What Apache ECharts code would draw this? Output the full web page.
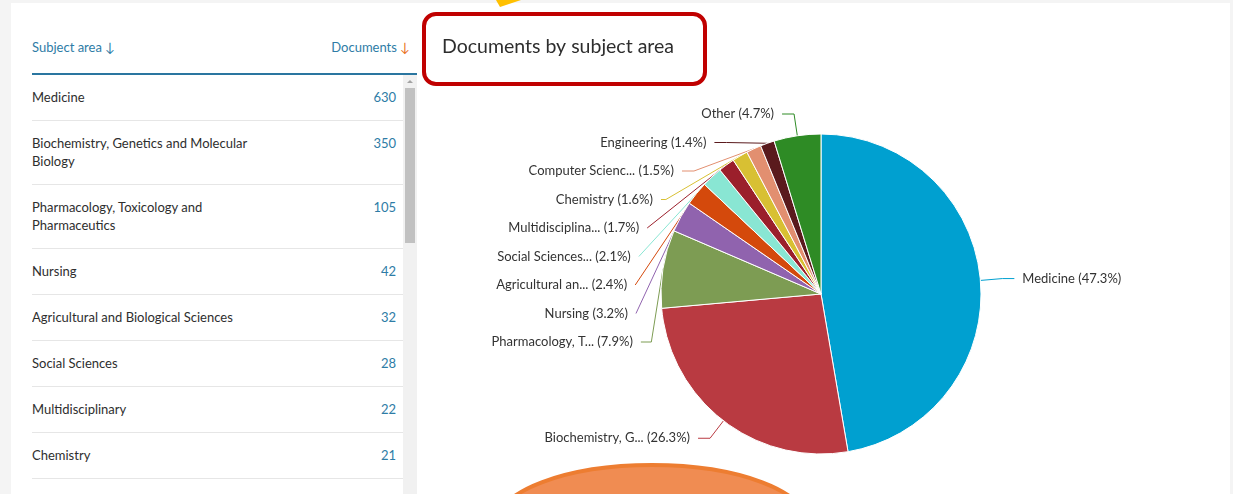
<!DOCTYPE html>
<html lang="en">
<head>
	<meta charset="UTF-8">
	<title>Documents by subject area</title>
	<style>
		*{
			margin: 0;
			padding: 0;
			box-sizing: border-box;
		}
		body{
			width: 1233px;
			height: 494px;
			overflow: hidden;
			background: #f4f4f4;
			font-family: Lato, "Noto Sans", sans-serif;
			color: #2e2e2e;
			position: relative;
		}
		.panel{
			position: absolute;
			left: 11px;
			top: 3px;
			width: 1219px;
			height: 491px;
			background: #fff;
		}
		.head{
			position: absolute;
			left: 32px;
			top: 36px;
			width: 385px;
			height: 39px;
			border-bottom: 2px solid #2a76a0;
			font-size: 13px;
			color: #2e7ca6;
		}
		.head .sa{ position: absolute; left: 0; top: 3px; }
		.head .docs{ position: absolute; right: 7px; top: 3px; }
		.head .docs i{ color: #e9711c; font-style: normal; }
		.rows{
			position: absolute;
			left: 32px;
			top: 75px;
			width: 371px;
			height: 419px;
			overflow: hidden;
		}
		.row{
			display: flex;
			justify-content: space-between;
			padding: 13px 7px 14px 0;
			line-height: 18px;
			font-size: 13px;
			border-bottom: 1px solid #e6e6e6;
		}
		.row .name{ width: 240px; }
		.row .num{ color: #2e7ca6; }
		.track{
			position: absolute;
			left: 403px;
			top: 75px;
			width: 14px;
			height: 419px;
			background: #f1f1f1;
		}
		.thumb{
			position: absolute;
			left: 2px;
			top: 13px;
			width: 10px;
			height: 155px;
			background: #c1c1c1;
		}
		.arrow{
			position: absolute;
			left: 4px;
			top: 5px;
			width: 0;
			height: 0;
			border-left: 3px solid transparent;
			border-right: 3px solid transparent;
			border-bottom: 3px solid #a3a3a3;
		}
		#chart{
			position: absolute;
			left: 418px;
			top: 0;
			width: 815px;
			height: 494px;
		}
	</style>
	<script src="https://cdn.jsdelivr.net/npm/echarts@6/dist/echarts.min.js"></script>
</head>
<body>
	<div class="panel"></div>
	<div class="head"><span class="sa">Subject area ↓</span><span class="docs">Documents <i>↓</i></span></div>
	<div class="rows" id="rows"></div>
	<div class="track"><div class="arrow"></div><div class="thumb"></div></div>
	<div id="chart"></div>
	<script>
		// data
		var subjects = ['Medicine', 'Biochemistry, Genetics and Molecular Biology', 'Pharmacology, Toxicology and Pharmaceutics',
			'Nursing', 'Agricultural and Biological Sciences', 'Social Sciences', 'Multidisciplinary', 'Chemistry',
			'Computer Science', 'Engineering', 'Other'];
		var documents = [630, 350, 105, 42, 32, 28, 22, 21, 20, 19, 63];
		var sliceColors = ['#00a0d0', '#b93a41', '#7d9c53', '#9063ae', '#d4490c', '#89e6d3', '#9b1f2b', '#d8c033',
			'#e28f70', '#5a1a1d', '#2e8b25'];

		var total = documents.reduce((a, b) => a + b, 0);

		// table on the left (Other is not a table row)
		var rowsEl = document.getElementById('rows');
		subjects.forEach((name, i) => {
			if (name === 'Other') return;
			var row = document.createElement('div');
			row.className = 'row';
			row.innerHTML = '<span class="name">' + name + '</span><span class="num">' + documents[i] + '</span>';
			rowsEl.appendChild(row);
		});

		function shortName(name) {
			return name.length >= 15 ? name.slice(0, 15) + '...' : name;
		}

		var chart = echarts.init(document.getElementById('chart'));
		var option = {
			animation: false,
			title: {
				text: 'Documents by subject area',
				left: 19,
				top: 32,
				textStyle: {
					fontFamily: 'Lato',
					fontSize: 19.5,
					fontWeight: 'normal',
					color: '#2e2e2e'
				}
			},
			graphic: [
				{
					type: 'rect',
					shape: { x: 6, y: 14, width: 281, height: 70, r: 12 },
					style: { fill: 'none', stroke: '#c00000', lineWidth: 4 }
				},
				{
					type: 'polygon',
					shape: { points: [[78, 0], [103, 0], [82, 7]] },
					style: { fill: '#ffc000' }
				},
				{
					type: 'ellipse',
					shape: { cx: 234, cy: 524, rx: 156, ry: 59 },
					style: { fill: '#f08c52', stroke: '#ed7d31', lineWidth: 4 }
				}
			],
			series: [{
				type: 'pie',
				center: [403, 294],
				radius: 160,
				startAngle: 90,
				clockwise: true,
				itemStyle: { borderColor: '#fff', borderWidth: 1 },
				label: {
					formatter: p => shortName(p.name) + ' (' + (p.value / total * 100).toFixed(1) + '%)',
					fontFamily: 'Lato',
					fontSize: 13,
					lineHeight: 26.5,
					color: '#333',
					distanceToLabelLine: 8
				},
				labelLine: {
					length: 22,
					length2: 12,
					lineStyle: { width: 1 }
				},
				data: subjects.map((name, i) => ({
					name: name,
					value: documents[i],
					itemStyle: { color: sliceColors[i] }
				}))
			}]
		};
		chart.setOption(option);
	</script>
</body>
</html>
